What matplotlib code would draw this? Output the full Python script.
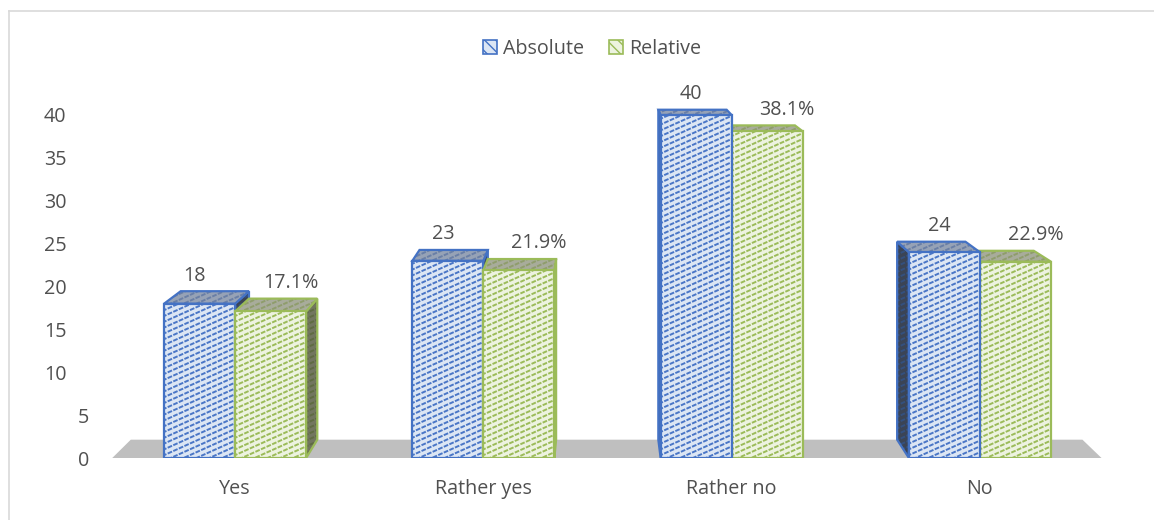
import numpy as np
import matplotlib
matplotlib.use("Agg")
import matplotlib.pyplot as plt
from matplotlib.patches import Polygon, Patch
from matplotlib.collections import LineCollection
from matplotlib.lines import Line2D

# ---- data ----
categories = ["Yes", "Rather yes", "Rather no", "No"]
absolute = [18, 23, 40, 24]
relative = [17.1, 21.9, 38.1, 22.9]
series_names = ["Absolute", "Relative"]
y_ticks = [0, 5, 10, 15, 20, 25, 30, 35, 40]

# ---- style ----
plt.rcParams["font.family"] = ["Open Sans", "DejaVu Sans"]
plt.rcParams["lines.scale_dashes"] = False
TEXT = "#505050"
FONT = 14.2

STYLE = {
    "Absolute": dict(front="#dce6f4", front_h="#4a76c6", edge="#4472c4",
                     top="#96a2b6", top_h="#6a7fa6",
                     side="#3b4455", side_h="#34507e"),
    "Relative": dict(front="#edf3e0", front_h="#9bbb59", edge="#9bbb59",
                     top="#a8ac9b", top_h="#8f9d6c",
                     side="#72765f", side_h="#5f6b42"),
}

BAR_W = 0.286
# perspective: vanishing point (data coords) and depth fraction
VX, VY, T = 1.47, 56.2, 0.038

W, H, DPI = 1154, 520, 100
fig = plt.figure(figsize=(W / DPI, H / DPI), dpi=DPI)
ax_l, ax_r = 111, 1104
y0_px, ymax = 458, 44.0
px_per_unit_y = 8.575
top_px = y0_px - ymax * px_per_unit_y
ax = fig.add_axes([ax_l / W, (H - y0_px) / H, (ax_r - ax_l) / W, (y0_px - top_px) / H])
ax.set_xlim(-0.5, 3.5)
ax.set_ylim(0, ymax)
for s in ax.spines.values():
    s.set_visible(False)

SX = (ax_r - ax_l) / 4.0   # px per x unit
SY = px_per_unit_y          # px per y unit


def back(p):
    x, y = p
    return (x + T * (VX - x), y + T * (VY - y))


def hatched(poly, face, hcol, edge, lw=1.6, slope=0.45, gap=5.8, z=2):
    patch = Polygon(poly, closed=True, facecolor=face, edgecolor="none", zorder=z)
    ax.add_patch(patch)
    pts = np.array(poly)
    X = pts[:, 0] * SX
    Y = pts[:, 1] * SY
    c_lo = (Y - slope * X).min() - gap
    c_hi = (Y - slope * X).max() + gap
    x_lo, x_hi = X.min() - 2, X.max() + 2
    segs = []
    for c in np.arange(c_lo, c_hi, gap):
        segs.append([(x_lo / SX, (slope * x_lo + c) / SY),
                     (x_hi / SX, (slope * x_hi + c) / SY)])
    lc = LineCollection(segs, colors=hcol, linewidths=1.4,
                        linestyles=[(0, (3.4, 1.0))], zorder=z + 0.1)
    ax.add_collection(lc)
    lc.set_clip_path(patch)
    outline = Polygon(poly, closed=True, facecolor="none", edgecolor=edge,
                      linewidth=lw, joinstyle="miter", zorder=z + 0.2)
    ax.add_patch(outline)


# floor
x_a, x_b = -0.495, 3.49
floor = [(x_a, 0), (x_b, 0), back((x_b, 0)), back((x_a, 0))]
ax.add_patch(Polygon(floor, closed=True, facecolor="#bfbfbf", edgecolor="none", zorder=1))

# bars
bars = []
for i, cat in enumerate(categories):
    bars.append((i - BAR_W, i, absolute[i], "Absolute"))
    bars.append((i, i + BAR_W, relative[i], "Relative"))
bars.sort(key=lambda b: -abs((b[0] + b[1]) / 2 - VX))

for k, (x0, x1, v, name) in enumerate(bars):
    st = STYLE[name]
    z = 2 + k
    fl, fr = (x0, v), (x1, v)
    bl, br = back(fl), back(fr)
    if x1 < VX:
        side = [(x1, 0), fr, br, back((x1, 0))]
        hatched(side, st["side"], st["side_h"], st["edge"], z=z)
    elif x0 > VX:
        side = [(x0, 0), fl, bl, back((x0, 0))]
        hatched(side, st["side"], st["side_h"], st["edge"], z=z)
    hatched([fl, fr, br, bl], st["top"], st["top_h"], st["edge"], z=z + 0.3)
    hatched([(x0, 0), (x1, 0), fr, fl], st["front"], st["front_h"], st["edge"], z=z + 0.6)

# value labels
for i in range(len(categories)):
    for x0, v, txt, dx in [(i - BAR_W, absolute[i], f"{absolute[i]:g}", -5),
                           (i, relative[i], f"{relative[i]:.1f}%", 20)]:
        xc = x0 + BAR_W / 2
        yb = back((xc, v))[1]
        ax.annotate(txt, (xc, yb), xytext=(dx * 0.72, 4), textcoords="offset points",
                    ha="center", va="bottom", fontsize=FONT, color=TEXT, zorder=50)

# axes ticks
ax.set_xticks(range(len(categories)))
ax.set_xticklabels(categories)
ax.tick_params(axis="x", length=0, pad=15, labelsize=FONT, labelcolor=TEXT)
ax.set_yticks(y_ticks)
ax.set_yticklabels([str(t) for t in y_ticks])
ax.tick_params(axis="y", length=0, labelsize=FONT, labelcolor=TEXT)
for t, tick in zip(y_ticks, ax.yaxis.get_major_ticks()):
    tick.set_pad(16 if t < 10 else 32)

# legend
plt.rcParams["hatch.color"] = "#4472c4"
handles = [Patch(facecolor=STYLE[n]["front"], edgecolor=STYLE[n]["edge"], hatch="\\\\\\", linewidth=1.2)
           for n in series_names]
leg = fig.legend(handles, series_names, loc="center", bbox_to_anchor=(592 / W, 1 - 49 / H),
                 ncol=2, frameon=False, fontsize=FONT, handlelength=0.7, handleheight=0.7,
                 handletextpad=0.3, columnspacing=1.3, labelcolor=TEXT)
for h, n in zip(leg.legend_handles, series_names):
    if hasattr(h, "set_hatch_color"):
        h.set_hatch_color(STYLE[n]["edge"])

# chart frame
fig.add_artist(Line2D([9 / W, 9 / W], [0, 1 - 11 / H], color="#d9d9d9", lw=1.2, transform=fig.transFigure))
fig.add_artist(Line2D([9 / W, 1], [1 - 11 / H, 1 - 11 / H], color="#d9d9d9", lw=1.2, transform=fig.transFigure))

fig.savefig("out.png", dpi=DPI, facecolor="white")
